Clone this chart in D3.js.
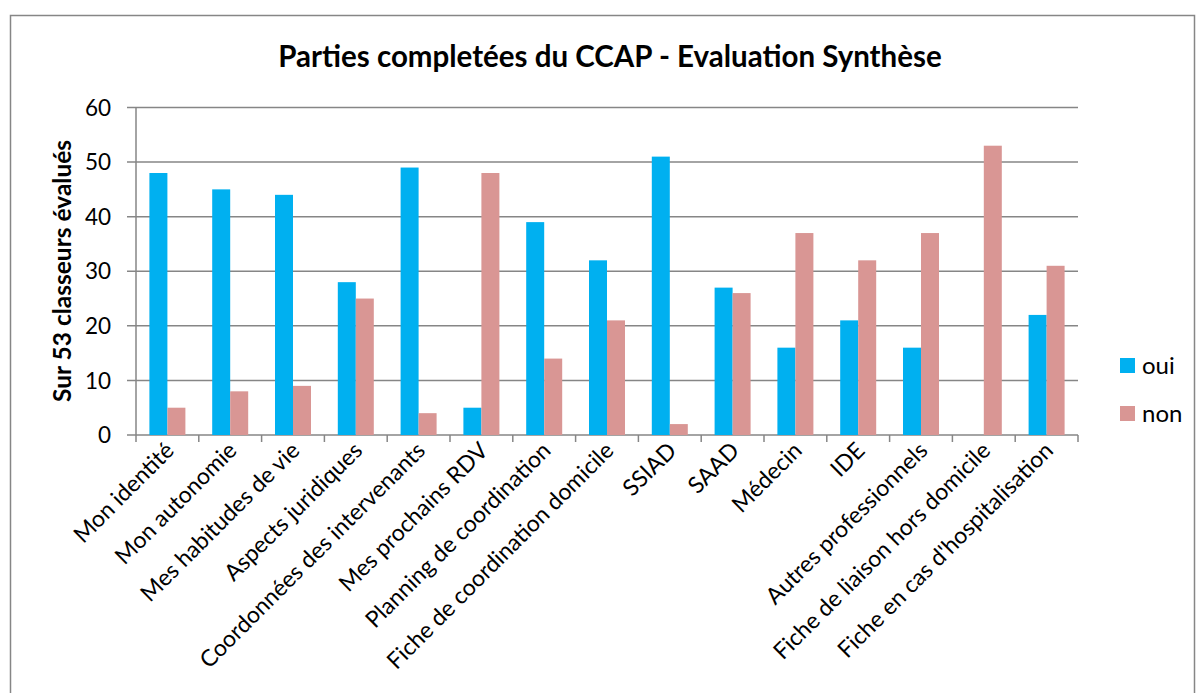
<!DOCTYPE html>
<html><head><meta charset="utf-8">
<script src="https://cdn.jsdelivr.net/npm/d3@7"></script>
<style>body{margin:0;background:#fff}svg{display:block;font-family:Lato,"Open Sans",sans-serif}</style>
</head><body>
<script>
const categories = ["Mon identité","Mon autonomie","Mes habitudes de vie","Aspects juridiques","Coordonnées des intervenants","Mes prochains RDV","Planning de coordination","Fiche de coordination domicile","SSIAD","SAAD","Médecin","IDE","Autres professionnels","Fiche de liaison hors domicile","Fiche en cas d'hospitalisation"];
const oui = [48,45,44,28,49,5,39,32,51,27,16,21,16,0,22];
const non = [5,8,9,25,4,48,14,21,2,26,37,32,37,53,31];
const seriesNames = ["oui","non"];
const colors = ["#00B0F0","#D99694"];
const yTicks = [0,10,20,30,40,50,60];

const W=1197,H=693;
const svg=d3.select("body").append("svg").attr("width",W).attr("height",H);
svg.append("rect").attr("x",10.5).attr("y",15.5).attr("width",1184).attr("height",700).attr("fill","#fff").attr("stroke","#868686").attr("stroke-width",1.5);

const x0=136,x1=1078,yTop=107.5,yBot=435;
const x=d3.scaleBand().domain(categories).range([x0,x1]);
const y=d3.scaleLinear().domain([0,60]).range([yBot,yTop]);

// gridlines
svg.append("g").selectAll("line").data(yTicks).join("line")
 .attr("x1",127).attr("x2",x1).attr("y1",d=>y(d)).attr("y2",d=>y(d))
 .attr("stroke","#868686").attr("stroke-width",1.5);
// y axis line
svg.append("line").attr("x1",x0).attr("x2",x0).attr("y1",yTop).attr("y2",yBot).attr("stroke","#868686").attr("stroke-width",1.5);
// x ticks
const bounds=categories.map(c=>x(c)).concat([x1]);
svg.append("g").selectAll("line").data(bounds).join("line")
 .attr("x1",d=>d).attr("x2",d=>d).attr("y1",yBot).attr("y2",yBot+7)
 .attr("stroke","#868686").attr("stroke-width",1.5);

// y tick labels
svg.append("g").selectAll("text").data(yTicks).join("text")
 .attr("x",111).attr("y",d=>y(d)).attr("dy","0.36em").attr("text-anchor","end")
 .attr("font-size",22.5).attr("fill","#000").text(d=>d);

// bars
const bw=18;
const data=[oui,non];
data.forEach((vals,si)=>{
 svg.append("g").selectAll("rect").data(vals).join("rect")
  .attr("x",(d,i)=>x(categories[i])+x.bandwidth()/2-bw+si*bw)
  .attr("y",d=>y(d)).attr("width",bw).attr("height",d=>yBot-y(d))
  .attr("fill",colors[si]);
});

// category labels
svg.append("g").selectAll("text").data(categories).join("text")
 .attr("transform",d=>`translate(${x(d)+x.bandwidth()/2+8},${yBot+17}) rotate(-45)`)
 .attr("text-anchor","end").attr("font-size",23).attr("fill","#000").text(d=>d);

// title
svg.append("text").attr("x",610).attr("y",67).attr("text-anchor","middle")
 .attr("font-size",29.5).attr("font-weight","bold").text("Parties completées du CCAP - Evaluation Synthèse");

// y label
svg.append("text").attr("transform","translate(62,271) rotate(-90)").attr("text-anchor","middle")
 .attr("dy","0.35em").attr("font-size",24.5).attr("font-weight","bold").text("Sur 53 classeurs évalués");

// legend
seriesNames.forEach((n,i)=>{
 const ly=358+i*48;
 svg.append("rect").attr("x",1120).attr("y",ly).attr("width",15).attr("height",15).attr("fill",colors[i]);
 svg.append("text").attr("x",1142).attr("y",ly+8).attr("dy","0.35em").attr("font-size",24).text(n);
});
</script>
</body></html>
